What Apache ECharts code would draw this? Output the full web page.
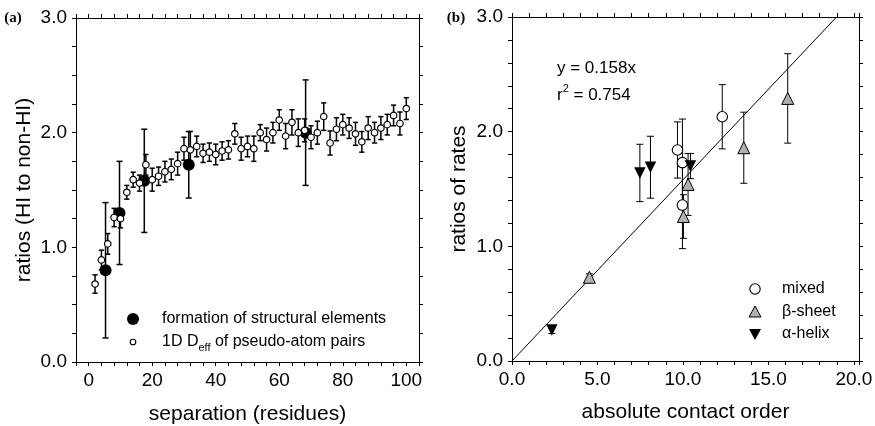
<!DOCTYPE html>
<html><head><meta charset="utf-8">
<script src="https://cdn.jsdelivr.net/npm/echarts@6/dist/echarts.min.js"></script>
<style>html,body{margin:0;padding:0;background:#fff}#c{width:875px;height:426px}</style>
</head><body><div id="c"></div><script>
// ---- Panel (a): 1D Deff of pseudo-atom pairs (open circles)
const pairSep = [2,4,6,8,10,12,14,16,18,20,22,24,26,28,30,32,34,36,38,40,42,44,46,48,50,52,54,56,58,60,62,64,66,68,70,72,74,76,78,80,82,84,86,88,90,92,94,96,98,100];
const pairRatio = [0.68,0.89,1.03,1.26,1.25,1.48,1.59,1.56,1.72,1.59,1.62,1.66,1.68,1.73,1.86,1.85,1.88,1.82,1.83,1.81,1.84,1.85,1.99,1.86,1.88,1.86,2.00,1.94,2.00,2.11,1.97,2.09,2.00,2.02,1.96,2.00,2.14,1.91,2.03,2.07,2.04,1.99,1.92,2.04,2.00,2.04,2.07,2.15,2.08,2.21];
const pairErr = [0.08,0.085,0.09,0.08,0.08,0.06,0.065,0.07,0.09,0.1,0.08,0.09,0.09,0.1,0.1,0.16,0.09,0.08,0.08,0.09,0.08,0.08,0.09,0.1,0.09,0.11,0.07,0.1,0.09,0.09,0.11,0.11,0.12,0.1,0.1,0.1,0.12,0.105,0.1,0.09,0.09,0.1,0.09,0.1,0.09,0.1,0.09,0.09,0.1,0.095];
// ---- Panel (a): formation of structural elements (filled circles)
const elemSep = [5.3, 9.7, 17.5, 31.5, 68.3];
const elemRatio = [0.80, 1.30, 1.58, 1.72, 2.00];
const elemErr = [0.59, 0.45, 0.45, 0.29, 0.46];
// ---- Panel (b)
const mixedACO = [9.68, 9.97, 9.97, 12.3];
const mixedRatio = [1.84, 1.73, 1.36, 2.13];
const mixedErr = [0.245, 0.38, 0.38, 0.28];
const sheetACO = [4.53, 10.03, 10.3, 13.56, 16.13];
const sheetRatio = [0.73, 1.26, 1.54, 1.86, 2.29];
const sheetErr = [0.03, 0.19, 0.27, 0.31, 0.39];
const helixACO = [2.33, 7.48, 8.1, 10.44];
const helixRatio = [0.27, 1.64, 1.69, 1.70];
const helixErr = [0.03, 0.25, 0.27, 0.11];
const fitSlope = [0.158];
const fitR2 = [0.754];

const FONT = '"Liberation Sans", Arial, sans-serif';
const isInt = v => Math.abs(v - Math.round(v)) < 1e-6;
const ctx = document.createElement('canvas').getContext('2d');
const textW = (t, px) => { ctx.font = px + 'px ' + FONT; return ctx.measureText(t).width; };

function axis(o) {
  return Object.assign({
    type: 'value',
    axisLine: { show: true, onZero: false, lineStyle: { color: '#000', width: 1 } },
    axisTick: { show: true, inside: false, length: 4, lineStyle: { color: '#000', width: 1 } },
    splitLine: { show: false },
    axisLabel: { show: false }
  }, o);
}
const tickLabel = (fmt, m) => ({ show: true, formatter: fmt, fontSize: 19, color: '#000', fontFamily: FONT, margin: m });
const nameStyle = { fontSize: 21, color: '#000', fontFamily: FONT };

function errRender(cap, lw) {
  return function (params, api) {
    const x = api.value(0), lo = api.value(1), hi = api.value(2);
    const a = api.coord([x, hi]), b = api.coord([x, lo]);
    const st = { stroke: '#000', lineWidth: lw };
    return { type: 'group', children: [
      { type: 'line', shape: { x1: a[0], y1: a[1], x2: b[0], y2: b[1] }, style: st },
      { type: 'line', shape: { x1: a[0] - cap, y1: a[1], x2: a[0] + cap, y2: a[1] }, style: st },
      { type: 'line', shape: { x1: b[0] - cap, y1: b[1], x2: b[0] + cap, y2: b[1] }, style: st }
    ]};
  };
}
const errData = (xs, ys, es) => xs.map((x, i) => [x, ys[i] - es[i], ys[i] + es[i]]);
const ptData = (xs, ys) => xs.map((x, i) => [x, ys[i]]);

const fmtA = v => (v % 20 === 0 && v >= 0 && v <= 100) ? String(v) : '';
const fmtB = v => (isInt(v / 5) && v >= 0 && v <= 20) ? v.toFixed(1) : '';
const fmtY = v => isInt(v) ? v.toFixed(1) : '';

// legend (a) second line pieces
const lgX = 162, lgY2 = 342;
const w1 = textW('1D D', 16), w2 = textW('eff', 11);
const rX = 557, rW = textW('r', 17);

const option = {
  animation: false,
  backgroundColor: '#fff',
  grid: [
    { left: 76, top: 18, width: 343, height: 344, outerBoundsMode: 'none', containLabel: false },
    { left: 512, top: 17, width: 347, height: 344, outerBoundsMode: 'none', containLabel: false }
  ],
  xAxis: [
    axis({ gridIndex: 0, position: 'bottom', min: -4, max: 104, interval: 4, axisLabel: tickLabel(fmtA, 9),
      name: 'separation (residues)', nameLocation: 'middle', nameGap: 42, nameTextStyle: nameStyle }),
    axis({ gridIndex: 0, position: 'top', min: -4, max: 104, interval: 4 }),
    axis({ gridIndex: 1, position: 'bottom', min: 0, max: 20.3, interval: 1, axisLabel: tickLabel(fmtB, 9),
      name: 'absolute contact order', nameLocation: 'middle', nameGap: 41, nameTextStyle: nameStyle }),
    axis({ gridIndex: 1, position: 'top', min: 0, max: 20.3, interval: 1 })
  ],
  yAxis: [
    axis({ gridIndex: 0, position: 'left', min: 0, max: 3, interval: 0.25, axisLabel: tickLabel(fmtY, 9),
      name: 'ratios (HI to non-HI)', nameLocation: 'middle', nameGap: 41, nameTextStyle: nameStyle }),
    axis({ gridIndex: 0, position: 'right', min: 0, max: 3, interval: 0.25 }),
    axis({ gridIndex: 1, position: 'left', min: 0, max: 3, interval: 0.2, axisLabel: tickLabel(fmtY, 9),
      name: 'ratios of rates', nameLocation: 'middle', nameGap: 42, nameTextStyle: nameStyle }),
    axis({ gridIndex: 1, position: 'right', min: 0, max: 3, interval: 0.2 })
  ],
  series: [
    { type: 'custom', xAxisIndex: 0, yAxisIndex: 0, renderItem: errRender(3, 1.5), data: errData(elemSep, elemRatio, elemErr), z: 1 },
    { type: 'custom', xAxisIndex: 0, yAxisIndex: 0, renderItem: errRender(2.6, 1.5), data: errData(pairSep, pairRatio, pairErr), z: 1 },
    { type: 'scatter', xAxisIndex: 0, yAxisIndex: 0, data: ptData(elemSep, elemRatio), symbol: 'circle', symbolSize: 12,
      itemStyle: { color: '#000', borderColor: '#000', borderWidth: 0, opacity: 1 }, z: 2 },
    { type: 'scatter', xAxisIndex: 0, yAxisIndex: 0, data: ptData(pairSep, pairRatio), symbol: 'circle', symbolSize: 6.5,
      itemStyle: { color: '#fff', borderColor: '#000', borderWidth: 1.2, opacity: 1 }, z: 3 },

    { type: 'line', xAxisIndex: 2, yAxisIndex: 2, data: [[0, 0], [3 / fitSlope[0], 3]], symbol: 'none',
      lineStyle: { color: '#000', width: 1 }, z: 1 },
    { type: 'custom', xAxisIndex: 2, yAxisIndex: 2, renderItem: errRender(3.5, 1), data: errData(mixedACO, mixedRatio, mixedErr), z: 1 },
    { type: 'custom', xAxisIndex: 2, yAxisIndex: 2, renderItem: errRender(3.5, 1), data: errData(sheetACO, sheetRatio, sheetErr), z: 1 },
    { type: 'custom', xAxisIndex: 2, yAxisIndex: 2, renderItem: errRender(3.5, 1), data: errData(helixACO, helixRatio, helixErr), z: 1 },
    { type: 'scatter', xAxisIndex: 2, yAxisIndex: 2, data: ptData(mixedACO, mixedRatio), symbol: 'circle', symbolSize: 10.5,
      itemStyle: { color: '#fff', borderColor: '#000', borderWidth: 1.1, opacity: 1 }, z: 3 },
    { type: 'scatter', xAxisIndex: 2, yAxisIndex: 2, data: ptData(sheetACO, sheetRatio), symbol: 'triangle', symbolSize: 12,
      itemStyle: { color: '#b0b0b0', borderColor: '#000', borderWidth: 1, opacity: 1 }, z: 3 },
    { type: 'scatter', xAxisIndex: 2, yAxisIndex: 2, data: ptData(helixACO, helixRatio), symbol: 'triangle', symbolRotate: 180, symbolSize: 11.5,
      itemStyle: { color: '#000', borderColor: '#000', borderWidth: 0, opacity: 1 }, z: 3 }
  ],
  graphic: [
    { type: 'text', x: 13, y: 18, style: { text: '(a)', font: 'bold 15px "Liberation Serif", serif', fill: '#000', align: 'center', verticalAlign: 'middle' } },
    { type: 'text', x: 456, y: 18, style: { text: '(b)', font: 'bold 15px "Liberation Serif", serif', fill: '#000', align: 'center', verticalAlign: 'middle' } },
    // legend (a)
    { type: 'circle', shape: { cx: 133, cy: 319, r: 6 }, style: { fill: '#000' } },
    { type: 'text', x: lgX, y: 319, style: { text: 'formation of structural elements', font: '16px ' + FONT, fill: '#000', verticalAlign: 'middle' } },
    { type: 'circle', shape: { cx: 133, cy: lgY2, r: 2.8 }, style: { fill: '#fff', stroke: '#000', lineWidth: 1.1 } },
    { type: 'text', x: lgX, y: lgY2, style: { text: '1D D', font: '16px ' + FONT, fill: '#000', verticalAlign: 'middle' } },
    { type: 'text', x: lgX + w1, y: lgY2 + 6, style: { text: 'eff', font: '11px ' + FONT, fill: '#000', verticalAlign: 'middle' } },
    { type: 'text', x: lgX + w1 + w2, y: lgY2, style: { text: ' of pseudo-atom pairs', font: '16px ' + FONT, fill: '#000', verticalAlign: 'middle' } },
    // equation (b)
    { type: 'text', x: rX, y: 68, style: { text: 'y = ' + fitSlope[0].toFixed(3) + 'x', font: '17px ' + FONT, fill: '#000', verticalAlign: 'middle' } },
    { type: 'text', x: rX, y: 95, style: { text: 'r', font: '17px ' + FONT, fill: '#000', verticalAlign: 'middle' } },
    { type: 'text', x: rX + rW, y: 89, style: { text: '2', font: '11px ' + FONT, fill: '#000', verticalAlign: 'middle' } },
    { type: 'text', x: rX + rW + textW('2', 11), y: 95, style: { text: ' = ' + fitR2[0].toFixed(3), font: '17px ' + FONT, fill: '#000', verticalAlign: 'middle' } },
    // legend (b)
    { type: 'circle', shape: { cx: 755, cy: 289, r: 5.2 }, style: { fill: '#fff', stroke: '#000', lineWidth: 1.1 } },
    { type: 'text', x: 782, y: 289, style: { text: 'mixed', font: '16px ' + FONT, fill: '#000', verticalAlign: 'middle' } },
    { type: 'polygon', shape: { points: [[755, 306], [761, 317], [749, 317]] }, style: { fill: '#b0b0b0', stroke: '#000', lineWidth: 1 } },
    { type: 'text', x: 782, y: 312, style: { text: 'β-sheet', font: '16px ' + FONT, fill: '#000', verticalAlign: 'middle' } },
    { type: 'polygon', shape: { points: [[749, 329], [761, 329], [755, 340]] }, style: { fill: '#000' } },
    { type: 'text', x: 782, y: 334, style: { text: 'α-helix', font: '16px ' + FONT, fill: '#000', verticalAlign: 'middle' } }
  ]
};
const chart = echarts.init(document.getElementById('c'), null, { renderer: 'canvas' });
chart.setOption(option);
</script></body></html>
